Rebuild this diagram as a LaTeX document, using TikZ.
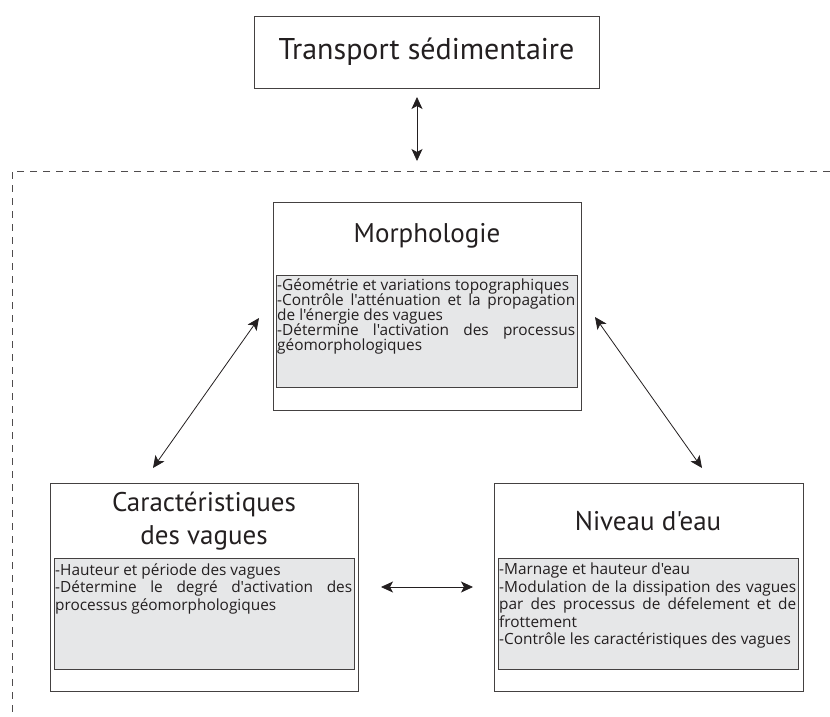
\documentclass[tikz,border=0pt]{standalone}
\usepackage{fontspec}
\newfontfamily\myriad{PT Sans}
\newfontfamily\bodyfont{Open Sans}
\newcommand\tightlines{\lineskiplimit=-20pt\relax}
\usetikzlibrary{arrows.meta,positioning}
\definecolor{inkgray}{RGB}{35,31,32}
\definecolor{boxgray}{RGB}{230,231,232}
\tikzset{
  every node/.style={font=\myriad, text=inkgray},
  outerbox/.style={draw=inkgray!85, line width=0.9pt, anchor=north west, inner sep=0pt},
  greybox/.style={draw=inkgray!85, fill=boxgray, line width=0.9pt, anchor=north west, inner sep=0pt},
  boxtitle/.style={font=\myriad\fontsize{27}{33}\selectfont, align=center},
  boxtext/.style={font=\bodyfont\fontsize{15.4}{#1}\selectfont\tightlines, align=justify, inner sep=0pt},
  boxtext/.default=15.2,
  conn/.style={{Stealth[length=12pt,width=11pt,inset=3pt]}-{Stealth[length=12pt,width=11pt,inset=3pt]}, line width=0.8pt, draw=inkgray},
  frame/.style={draw=inkgray!80, line width=0.8pt, dash pattern=on 7pt off 6pt}
}
\begin{document}
\begin{tikzpicture}[x=1pt,y=-1pt]
\useasboundingbox (0,0) rectangle (830,716);
% cadre du systeme
\draw[frame] (830,171) -- (12,171) -- (12,716);

\node[outerbox, anchor=center, minimum width=345pt, minimum height=72pt,
      font=\myriad\fontsize{30}{36}\selectfont] (transport) at (426.5,52) {Transport sédimentaire};

% Morphologie
\node[outerbox, minimum width=308pt, minimum height=208pt] (morph) at (273,202) {};
\node[boxtitle] (morphtitle) at (427,236) {Morphologie};
\node[greybox, minimum width=301pt, minimum height=112pt] (morphgrey) at (276,275) {};
\node[boxtext, text width=298pt, below right=3pt and 1pt of morphgrey.north west] (morphtext) {%
-Géométrie et variations topographiques\\
-Contrôle l'atténuation et la propagation\linebreak
de l'énergie des vagues\\
-Détermine l'activation des processus\linebreak
géomorphologiques};

% Caracteristiques des vagues
\node[outerbox, minimum width=308pt, minimum height=208pt] (carac) at (50,483) {};
\node[boxtitle] (caractitle) at (204,521) {Caractéristiques\\des vagues};
\node[greybox, minimum width=300pt, minimum height=111pt] (caracgrey) at (54,558) {};
\node[boxtext=17.8, text width=297pt, below right=5pt and 1pt of caracgrey.north west] (caractext) {%
-Hauteur et période des vagues\\
-Détermine le degré d'activation des\linebreak
processus géomorphologiques};

% Niveau d'eau
\node[outerbox, minimum width=309pt, minimum height=208pt] (niveau) at (494,483) {};
\node[boxtitle] (niveautitle) at (648,521) {Niveau d'eau};
\node[greybox, minimum width=300pt, minimum height=111pt] (niveaugrey) at (498,558) {};
\node[boxtext=17.5, text width=297pt, below right=5pt and 1pt of niveaugrey.north west] (niveautext) {%
-Marnage et hauteur d'eau\\
-Modulation de la dissipation des vagues\linebreak
par des processus de défelement et de\linebreak
frottement\\
-Contrôle les caractéristiques des vagues};

% fleches
\coordinate (tup) at (417,97);
\coordinate (tdown) at (417,161);
\coordinate (mleft) at (259,318);
\coordinate (cup) at (153,468);
\coordinate (mright) at (595,317);
\coordinate (nup) at (702,468);
\coordinate (cright) at (381,587);
\coordinate (nleft) at (473,587);
\draw[conn] (tup) -- (tdown);
\draw[conn] (mleft) -- (cup);
\draw[conn] (mright) -- (nup);
\draw[conn] (cright) -- (nleft);
\end{tikzpicture}
\end{document}
